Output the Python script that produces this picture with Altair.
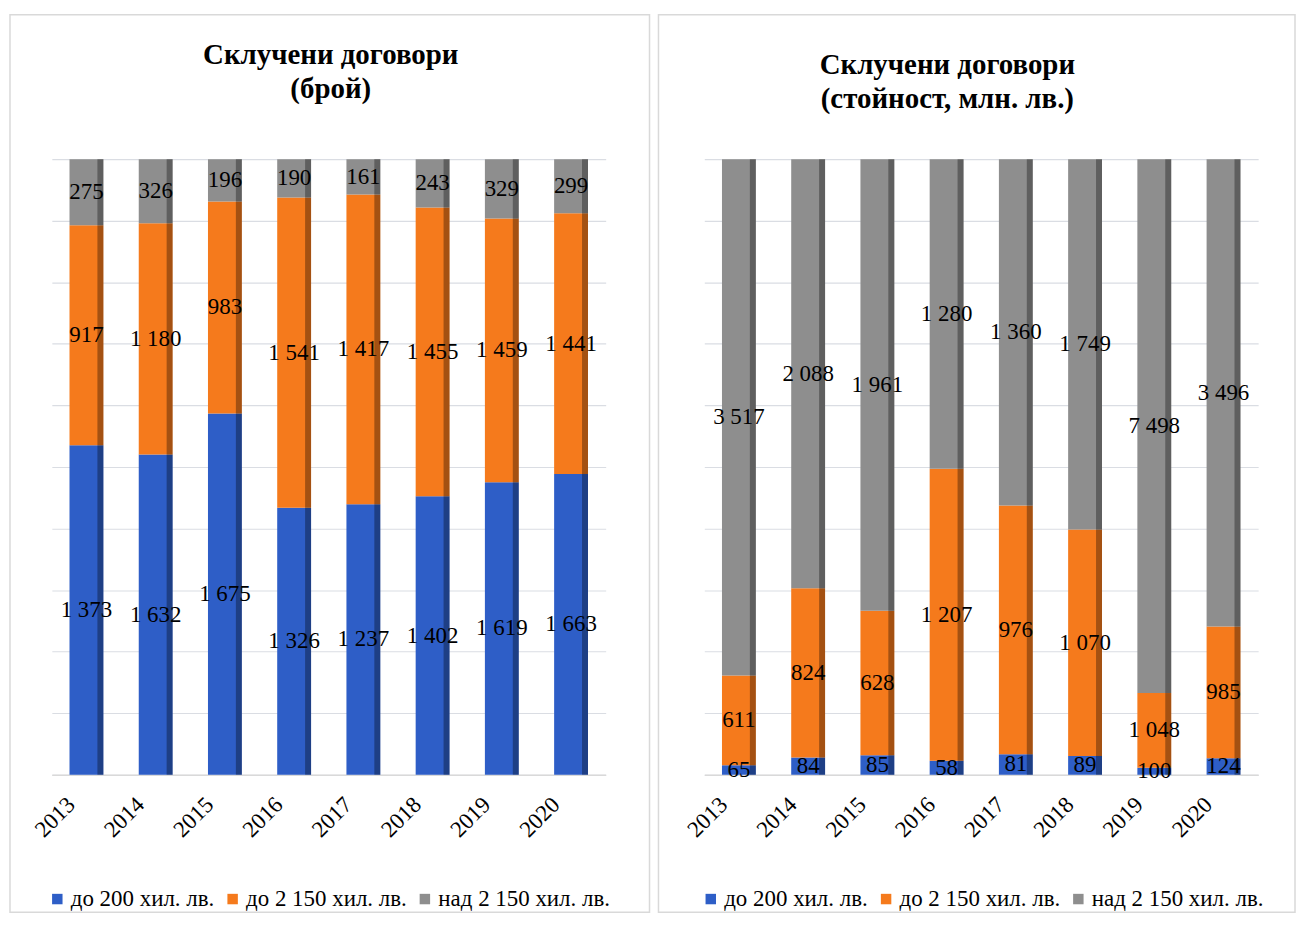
import altair as alt
import pandas as pd

years = ["2013", "2014", "2015", "2016", "2017", "2018", "2019", "2020"]
categories = ["до 200 хил. лв.", "до 2 150 хил. лв.", "над 2 150 хил. лв."]

count_small = [1373, 1632, 1675, 1326, 1237, 1402, 1619, 1663]
count_mid = [917, 1180, 983, 1541, 1417, 1455, 1459, 1441]
count_large = [275, 326, 196, 190, 161, 243, 329, 299]

value_small = [65, 84, 85, 58, 81, 89, 100, 124]
value_mid = [611, 824, 628, 1207, 976, 1070, 1048, 985]
value_large = [3517, 2088, 1961, 1280, 1360, 1749, 7498, 3496]

main_colors = ["#2E5EC7", "#F57A1C", "#8E8E8E"]

FONT = "Liberation Serif"
W, H = 556, 618


def make_df(series):
    rows = []
    for ci, vals in enumerate(series):
        for y, v in zip(years, vals):
            rows.append({"year": y, "cat": categories[ci], "order": ci, "value": v,
                         "label": f"{v:,}".replace(",", " ")})
    return pd.DataFrame(rows)


def panel(series, title_lines, title_x, title_y, frame_x, legend_x):
    df = make_df(series)
    base = alt.Chart(df).transform_stack(
        stack="value", groupby=["year"], as_=["v0", "v1"], offset="normalize",
        sort=[alt.SortField("order", "ascending")]
    ).transform_calculate(mid="(datum.v0 + datum.v1) / 2")

    x = alt.X("year:N", sort=years, title=None,
              scale=alt.Scale(paddingInner=0, paddingOuter=0),
              axis=alt.Axis(labelAngle=-45, labelAlign="right", labelBaseline="middle",
                            labelFont=FONT, labelFontSize=23, labelColor="black",
                            labelOffset=-15, labelPadding=26, ticks=False,
                            domainColor="#D9D9D9", domainWidth=1.5))
    y = alt.Y("v0:Q", title=None, scale=alt.Scale(domain=[0, 1], nice=False),
              axis=alt.Axis(values=[i / 10 for i in range(11)], labels=False, ticks=False,
                            domain=False, grid=True, gridColor="#DADDE3", gridWidth=1.2))

    bars = base.mark_bar(size=34).encode(
        x=x, y=y, y2="v1:Q",
        color=alt.Color("cat:N", scale=alt.Scale(domain=categories, range=main_colors),
                        legend=alt.Legend(orient="none", legendX=legend_x, legendY=731,
                                          direction="horizontal", title=None,
                                          symbolType="square", symbolSize=110,
                                          symbolStrokeWidth=0,
                                          labelFont=FONT, labelFontSize=23, labelColor="black",
                                          labelOffset=2, columnPadding=6, symbolOffset=0,
                                          labelLimit=300)),
    )
    shade = base.mark_bar(size=6, xOffset=14, color="black", opacity=0.33).encode(
        x=x, y=y, y2="v1:Q"
    )
    text = base.mark_text(font=FONT, fontSize=23, color="black", baseline="middle").encode(
        x=x, y=alt.Y("mid:Q"), text="label:N"
    )
    one = alt.Chart(pd.DataFrame({"f": [0]}))
    frame = one.mark_rect(
        fill="transparent", stroke="#D9D9D9", strokeWidth=1.5
    ).encode(x=alt.value(frame_x[0]), x2=alt.value(frame_x[1]),
             y=alt.value(-145), y2=alt.value(756))
    titles = [
        one.mark_text(text=line, font=FONT, fontSize=29, fontWeight="bold", color="black",
                      align="center", baseline="middle").encode(
            x=alt.value(title_x), y=alt.value(title_y + 35 * i))
        for i, line in enumerate(title_lines)
    ]

    return alt.layer(frame, *titles, bars, shade, text).properties(width=W, height=H)


left = panel([count_small, count_mid, count_large],
             ["Склучени договори", "(брой)"], 280, -105, (-42, 600), -6)
right = panel([value_small, value_mid, value_large],
              ["Склучени договори", "(стойност, млн. лв.)"], 244, -95, (-46, 593), -5)

chart = alt.hconcat(left, right, spacing=7).resolve_scale(
    color="independent", x="independent", y="independent"
).resolve_legend(color="independent").properties(
    padding={"left": 1, "top": 4, "right": 0, "bottom": 0}
).configure(font=FONT).configure_view(stroke=None).configure_legend(
    labelFont=FONT, labelFontSize=23, labelColor="black"
)

chart.save("out.html", embed_options={"renderer": "svg", "actions": False})
